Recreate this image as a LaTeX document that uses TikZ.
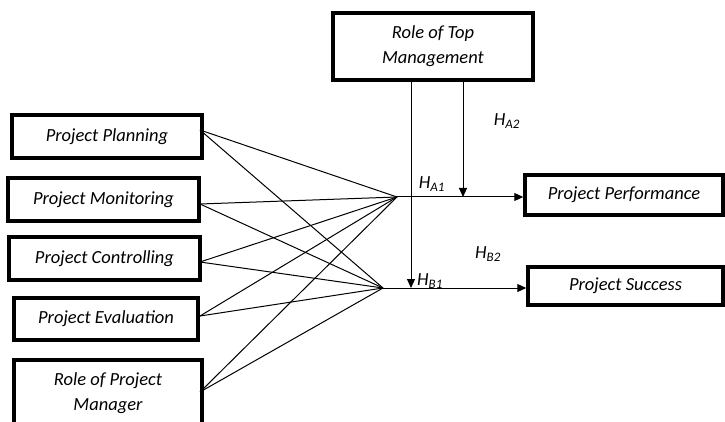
\documentclass[tikz,border=0pt]{standalone}
\usepackage{fontspec}
\setmainfont{Carlito}
\usetikzlibrary{arrows.meta}
\begin{document}
\begin{tikzpicture}[x=1pt,y=-1pt,
  box/.style={draw,line width=3.5pt,rectangle,inner sep=0pt,align=center,font=\itshape\fontsize{18.5}{25}\selectfont},
  link/.style={line width=1pt},
  arr/.style={line width=1pt,-{Triangle[length=9pt,width=8pt]}},
  hyp/.style={font=\itshape\fontsize{18.5}{22}\selectfont}]
\useasboundingbox (0,0) rectangle (725,422);
\clip (0,0) rectangle (725,422);
\node[box,minimum width=190pt,minimum height=43pt] (pp) at (107,136.5) {Project Planning};
\node[box,minimum width=191pt,minimum height=43pt] (pm) at (103.5,199.5) {Project Monitoring};
\node[box,minimum width=191pt,minimum height=43pt] (pc) at (104.5,258.5) {Project Controlling};
\node[box,minimum width=184pt,minimum height=42pt] (pe) at (106,319) {Project Evaluation};
\node[box,minimum width=188pt,minimum height=67pt,anchor=north] (rpm) at (108,358) {Role of Project\\Manager};
\node[box,minimum width=200pt,minimum height=67pt] (rtm) at (433,46.5) {Role of Top\\Management};
\node[box,minimum width=198pt,minimum height=40pt] (perf) at (624,195) {Project Performance};
\node[box,minimum width=195pt,minimum height=38pt] (succ) at (625.5,286) {Project Success};
\coordinate (A) at (397,197);
\coordinate (B) at (383,288);
\foreach \n/\y in {pp/130,pm/204,pc/262,pe/316,rpm/392}{
  \draw[link] (200,\y) -- (A);
  \draw[link] (200,\y) -- (B);
}
\draw[arr] (A) -- (perf.west |- A);
\draw[arr] (B) -- (succ.west |- B);
\coordinate (t1) at (411,80);
\coordinate (t2) at (463,80);
\draw[arr] (t1) -- (411,288);
\draw[arr] (t2) -- (463,197);
\node[hyp] (ha2) at (507,121) {H\textsubscript{A2}};
\node[hyp] (ha1) at (432,184) {H\textsubscript{A1}};
\node[hyp] (hb2) at (488,254) {H\textsubscript{B2}};
\node[hyp] (hb1) at (430,281) {H\textsubscript{B1}};
\end{tikzpicture}
\end{document}
